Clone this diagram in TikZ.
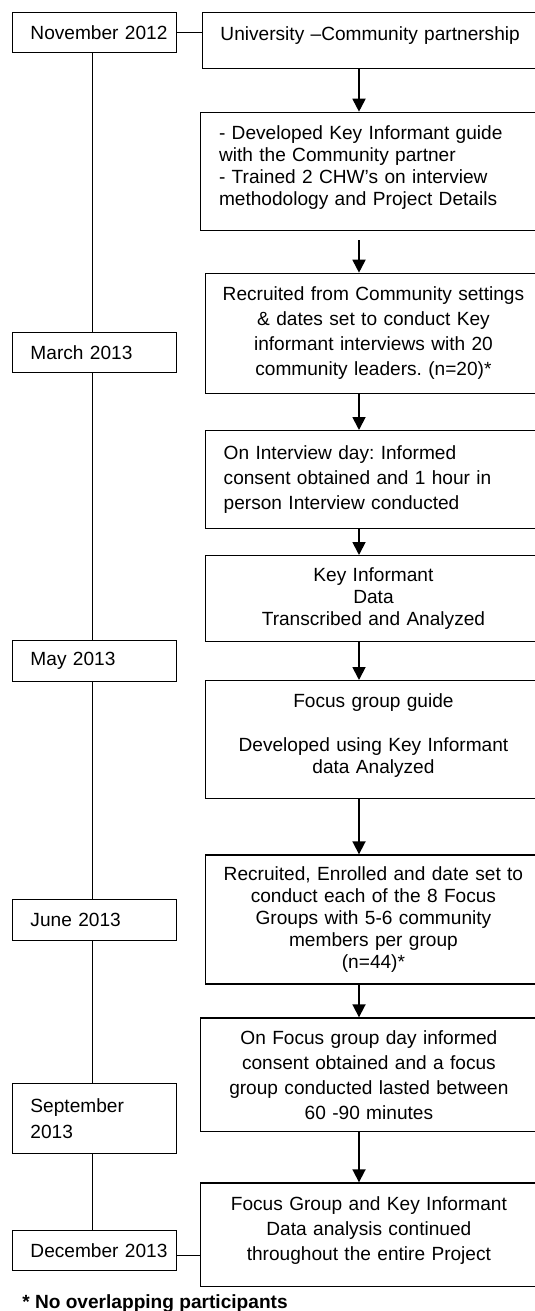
\documentclass[tikz,border=0pt]{standalone}
\usepackage{fontspec}
\setmainfont{Liberation Sans}
\usetikzlibrary{arrows.meta}
\frenchspacing

\begin{document}
\begin{tikzpicture}[x=1pt, y=-1pt,
    tightlines/.style={font=\fontsize{19.1}{22}\selectfont}]
  \fill[white] (0,0) rectangle (535,1311);
  \useasboundingbox (0,0) rectangle (535,1311);
  \coordinate (ax) at (359,0);
  \coordinate (tl) at (92.1,0);
  \begin{scope}[every node/.style={draw, line width=1.2pt, anchor=north west, text width=127.8pt, inner xsep=18pt, align=left, font=\fontsize{19.1}{26}\selectfont}]
    \node[minimum height=40.6pt] (nov) at (11.9,11.7) {November~2012};
    \node[minimum height=40pt] (mar) at (11.9,331.7) {March 2013};
    \node[minimum height=40.7pt] (may) at (11.9,640) {May 2013};
    \node[minimum height=41pt] (jun) at (11.9,899) {June 2013};
    \node[minimum height=70pt] (sep) at (11.9,1082.7) {September\\2013};
    \node[minimum height=40pt] (dec) at (11.9,1230) {December~2013};
  \end{scope}
  \begin{scope}[every node/.style={draw, line width=1.2pt, anchor=north west, inner xsep=4pt, align=center, font=\fontsize{19.1}{25}\selectfont}]
    \node[minimum height=56pt, text width=327.9pt, text depth=13pt] (s1) at (201.6,11.7) {University –Community partnership};
    \node[tightlines, minimum height=118.3pt, text width=299.8pt, inner xsep=18.8pt, align=left, text depth=78pt] (s2) at (199.6,111.7) {- Developed Key Informant guide\\with the Community partner\\- Trained 2 CHW’s on interview\\methodology and Project Details};
    \node[minimum height=120pt, text width=328.3pt] (s3) at (204.7,272.7) {Recruited from Community settings\\\& dates set to conduct Key\\informant interviews with 20\\community leaders. (n=20)*};
    \node[minimum height=97.7pt, text width=299.5pt, inner xsep=18.4pt, align=left] (s4) at (204.7,430) {On Interview day: Informed\\consent obtained and 1 hour in\\person Interview conducted};
    \node[tightlines, minimum height=85.7pt, text width=328.3pt] (s5) at (204.7,555) {Key Informant\\Data\\Transcribed and Analyzed};
    \node[tightlines, minimum height=118pt, text width=328.3pt, text depth=78pt] (s6) at (204.7,680) {Focus group guide\\[22pt]Developed using Key Informant\\data Analyzed};
    \node[tightlines, minimum height=129pt, text width=328.3pt] (s7) at (204.7,854.3) {Recruited, Enrolled and date set to\\conduct each of the 8 Focus\\Groups with 5-6 community\\members per group\\(n=44)*};
    \node[minimum height=113.7pt, text width=329.4pt] (s8) at (199.6,1017.3) {On Focus group day informed\\consent obtained and a focus\\group conducted lasted between\\60 -90 minutes};
    \node[minimum height=103.7pt, text width=329.4pt, text depth=63pt] (s9) at (199.6,1182.3) {Focus Group and Key Informant\\Data analysis continued\\throughout the entire Project};
  \end{scope}
  \node[anchor=base west, font=\bfseries\fontsize{19.1}{22}\selectfont] (note) at (18.8,1308) {* No overlapping participants};
  \begin{scope}[every edge/.style={draw, line width=1.2pt}]
    \foreach \a/\b in {nov/mar, mar/may, may/jun, jun/sep, sep/dec}
      \path (\a.south -| tl) edge (\b.north -| tl);
    \path (nov) edge (nov -| s1.west);
    \path ([yshift=-5pt]dec.east) edge ([yshift=-5pt]dec.east -| s9.west);
  \end{scope}
  \begin{scope}[every edge/.style={draw, line width=1.8pt, -{Triangle[width=13pt, length=13pt]}}]
    \foreach \a/\b in {s1/s2, s3/s4, s4/s5, s5/s6, s6/s7, s7/s8, s8/s9}
      \path (\a.south -| ax) edge (\b.north -| ax);
    \path (s2.south -| ax) edge[shorten <=9pt] (s3.north -| ax);
  \end{scope}
\end{tikzpicture}
\end{document}
